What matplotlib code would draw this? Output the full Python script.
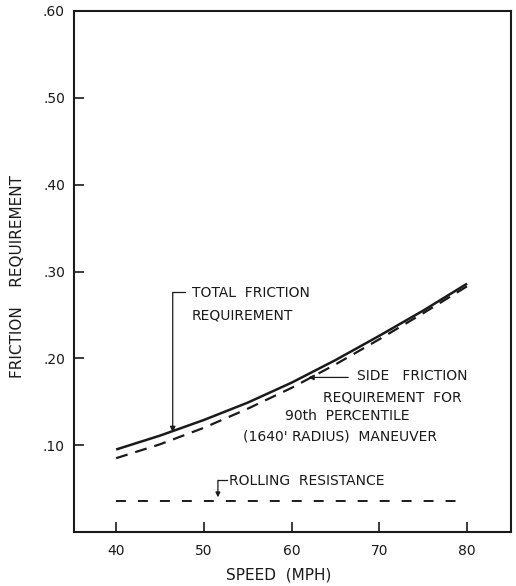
import matplotlib
matplotlib.use("Agg")
import matplotlib.pyplot as plt

speed = [40, 45, 50, 55, 60, 65, 70, 75, 80]
total_friction = [0.095, 0.111, 0.129, 0.149, 0.172, 0.198, 0.226, 0.255, 0.286]
side_friction = [0.085, 0.101, 0.120, 0.142, 0.166, 0.193, 0.222, 0.252, 0.283]
rolling_speed = [40, 80]
rolling_resistance = [0.036, 0.036]
yticks = [0.10, 0.20, 0.30, 0.40, 0.50, 0.60]
ytick_labels = [".10", ".20", ".30", ".40", ".50", ".60"]
xticks = [40, 50, 60, 70, 80]

plt.rcParams['font.family'] = ['DejaVu Sans']
ink = "#1a1a1a"

W, H = 516, 586
fig = plt.figure(figsize=(W / 100, H / 100), dpi=100)
ax = fig.add_axes([74 / W, 54 / H, 437 / W, 521 / H])

ax.plot(speed, total_friction, color=ink, lw=1.8, solid_capstyle='butt', solid_joinstyle='round')
ax.plot(speed, side_friction, color=ink, lw=1.6, dashes=(5.4, 3.6))
ax.plot(rolling_speed, rolling_resistance, color=ink, lw=1.4, dashes=(5.1, 6.2))

ax.set_xlim(35.2, 85)
ax.set_ylim(0, 0.6)
ax.set_xticks(xticks)
ax.set_xticklabels([str(v) for v in xticks])
ax.set_yticks(yticks)
ax.set_yticklabels(ytick_labels)
ax.tick_params(direction='in', length=7, width=1.2, colors=ink, labelsize=10)
ax.tick_params(axis='x', pad=8.5)
ax.tick_params(axis='y', pad=6.5)
for s in ax.spines.values():
    s.set_linewidth(1.5)
    s.set_color(ink)

fig.text(279 / W, 1 - 575 / H, "SPEED  (MPH)", fontsize=11, color=ink, ha='center', va='center')
fig.text(18 / W, 1 - 276 / H, "FRICTION    REQUIREMENT", fontsize=11, color=ink,
         ha='center', va='center', rotation=90)

# annotations
fs = 10
ax.text(48.6, 0.275, "TOTAL  FRICTION", fontsize=fs, color=ink, va='center')
ax.text(48.6, 0.249, "REQUIREMENT", fontsize=fs, color=ink, va='center')
ax.plot([46.45, 47.8], [0.276, 0.276], color=ink, lw=0.9)
ax.annotate("", xy=(46.45, 0.115), xytext=(46.45, 0.276),
            arrowprops=dict(arrowstyle='-|>', color=ink, lw=0.9, mutation_scale=8, shrinkA=0, shrinkB=0))

ax.text(67.48, 0.1793, "SIDE   FRICTION", fontsize=fs, color=ink, va='center')
ax.text(63.6, 0.155, "REQUIREMENT  FOR", fontsize=fs, color=ink, va='center')
ax.text(59.27, 0.1333, "90th  PERCENTILE", fontsize=fs, color=ink, va='center')
ax.text(54.48, 0.110, "(1640' RADIUS)  MANEUVER", fontsize=fs, color=ink, va='center')
ax.annotate("", xy=(61.9, 0.178), xytext=(66.45, 0.178),
            arrowprops=dict(arrowstyle='-|>', color=ink, lw=0.9, mutation_scale=8, shrinkA=0, shrinkB=0))

ax.text(52.9, 0.0586, "ROLLING  RESISTANCE", fontsize=fs, color=ink, va='center')
ax.plot([51.6, 52.6], [0.0595, 0.0595], color=ink, lw=0.9)
ax.annotate("", xy=(51.6, 0.040), xytext=(51.6, 0.0595),
            arrowprops=dict(arrowstyle='-|>', color=ink, lw=0.9, mutation_scale=7, shrinkA=0, shrinkB=0))

fig.savefig("out.png", dpi=100)
